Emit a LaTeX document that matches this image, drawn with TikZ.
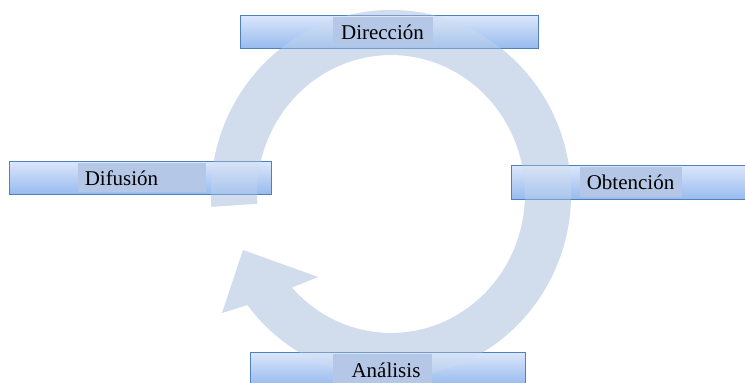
\documentclass[tikz,border=0pt]{standalone}
\usepackage{fontspec}
\setmainfont{Liberation Serif}
\usetikzlibrary{calc}
\definecolor{arcc}{RGB}{209,221,236}
\definecolor{boxtop}{RGB}{220,231,251}
\definecolor{boxbot}{RGB}{152,187,238}
\definecolor{boxline}{RGB}{79,129,189}
\definecolor{txtbg}{RGB}{181,199,230}
\begin{document}
\begin{tikzpicture}[x=1pt,y=-1pt,
  stagebox/.style={draw=boxline, line width=1pt, top color=boxtop, bottom color=boxbot, minimum height=33pt, inner sep=0pt},
  labelbg/.style={fill=txtbg, minimum height=29pt, inner sep=0pt},
  labeltext/.style={font=\fontsize{21}{25}\selectfont, anchor=base, inner sep=0pt},
  cyclearrow/.style={fill=arcc}]
\useasboundingbox (0,0) rectangle (745,383);
\clip (0,0) rectangle (745,383);
\coordinate (C) at (391,194);
\coordinate (hA) at (222,313);
\coordinate (hT) at (243,250);
\coordinate (hB) at (318,277);
\newcommand{\myarcpath}{($(C)+(176:180 and 184)$) arc[start angle=176,end angle=502.9,x radius=180,y radius=184] -- (hA) -- (hT) -- (hB) -- ($(C)+(137.7:134 and 139)$) arc[start angle=497.7,end angle=176,x radius=134,y radius=139] -- cycle}
\fill[cyclearrow] \myarcpath;
% boxes
\node[stagebox, minimum width=298pt] (dirbox) at (389,31.5) {};
\node[stagebox, minimum width=262pt] (difbox) at (140,177.5) {};
\node[stagebox, minimum width=298pt, minimum height=34pt] (obtbox) at (660,182) {};
\node[stagebox, minimum width=275pt] (anabox) at (387.5,368.5) {};
\fill[cyclearrow, fill opacity=0.3] \myarcpath;
% label backgrounds
\node[labelbg, minimum width=100pt] (dirbg) at (383,31.5) {};
\node[labelbg, minimum width=128pt] (difbg) at (142,177.5) {};
\node[labelbg, minimum width=102pt, minimum height=30pt] (obtbg) at (631,182) {};
\node[labelbg, minimum width=99pt] (anabg) at (382.5,368.5) {};
% texts
\node[labeltext] (dir) at (382.5,39) {Dirección};
\node[labeltext] (dif) at (121.5,185) {Difusión};
\node[labeltext] (obt) at (630.5,189) {Obtención};
\node[labeltext] (ana) at (386,377) {Análisis};
\end{tikzpicture}
\end{document}
